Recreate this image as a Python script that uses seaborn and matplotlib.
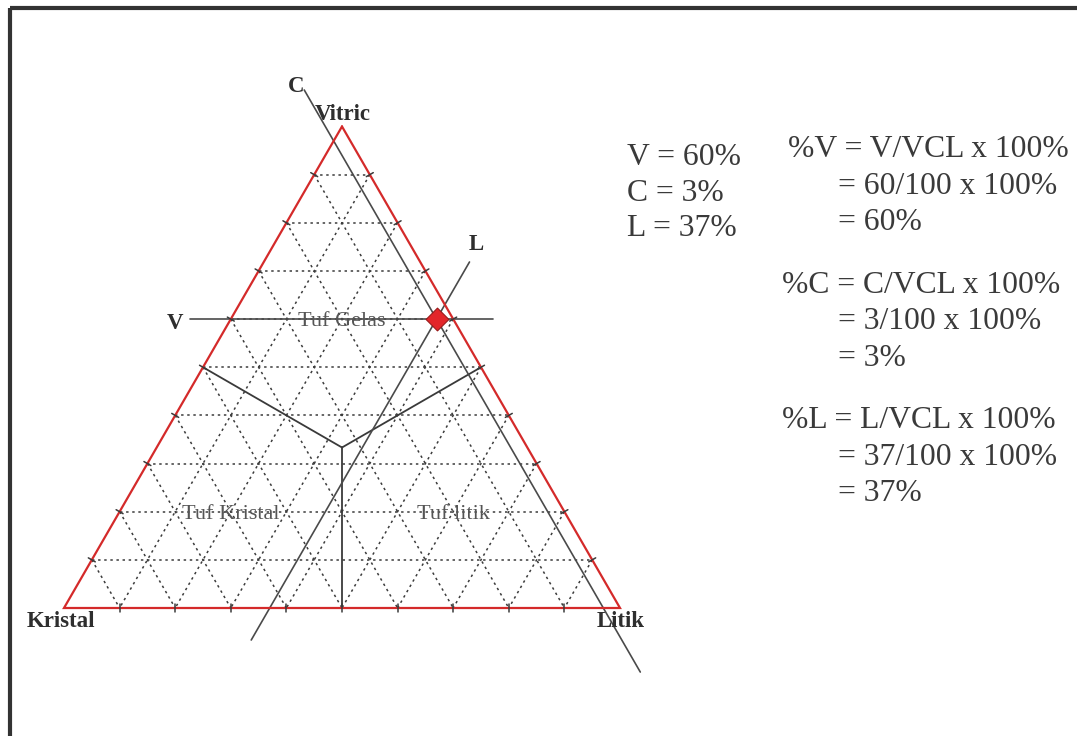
import numpy as np
import pandas as pd
import matplotlib
matplotlib.use("Agg")
import matplotlib.pyplot as plt
import seaborn as sns

# ---------------- data ----------------
apex_labels = ["Vitric", "Kristal", "Litik"]          # top, left, right
field_labels = ["Tuf Gelas", "Tuf Kristal", "Tuf litik"]
field_V = [0.6, 0.2, 0.2]
field_C = [0.2, 0.6, 0.2]
field_L = [0.2, 0.2, 0.6]
grid_levels = [0.1, 0.2, 0.3, 0.4, 0.5, 0.6, 0.7, 0.8, 0.9]
sample_V = 60
sample_C = 3
sample_L = 37
reading_labels = ["V", "C", "L"]
summary_lines = ["V = 60%", "C = 3%", "L = 37%"]
formula_lines = ["%V = V/VCL x 100%", "= 60/100 x 100%", "= 60%",
                 "%C = C/VCL x 100%", "= 3/100 x 100%", "= 3%",
                 "%L = L/VCL x 100%", "= 37/100 x 100%", "= 37%"]

# ---------------- style ----------------
sns.set_theme(style="white")
plt.rcParams["font.family"] = ["Liberation Serif", "DejaVu Serif"]

W, H = 1077, 736
fig = plt.figure(figsize=(W / 100, H / 100), dpi=100)
ax = fig.add_axes([0, 0, 1, 1])
ax.set_axis_off()

# triangle placement (pixels): left vertex x, base y, side length
X0, Y0, S = 64, 608, 556

R3 = np.sqrt(3) / 2


def tern(V, C, L):
    V, C, L = np.asarray(V, float), np.asarray(C, float), np.asarray(L, float)
    tot = V + C + L
    return L / tot + V / tot / 2, V / tot * R3


PT = 0.72  # points per pixel
red = "#d42a2a"
dark = "#3a3a3a"

# dotted grid
for f in grid_levels:
    for (a, b) in [((f, 1 - f, 0), (f, 0, 1 - f)),      # V = f
                   ((1 - f, f, 0), (0, f, 1 - f)),      # C = f
                   ((1 - f, 0, f), (0, 1 - f, f))]:     # L = f
        x, y = tern([a[0], b[0]], [a[1], b[1]], [a[2], b[2]])
        ax.plot(x, y, color="#3c3c3c", lw=1.1, ls=(0, (1.6, 2.4)), zorder=1)

# triangle outline
tx, ty = tern([1, 0, 0, 1], [0, 1, 0, 0], [0, 0, 1, 0])
ax.plot(tx, ty, color=red, lw=1.6, zorder=3, solid_joinstyle="miter")

# ticks on edges
tl = 8 / S / 2
for f in grid_levels:
    x, y = tern(0, 1 - f, f)
    ax.plot([x, x], [y - tl, y + tl], color=dark, lw=1.1, zorder=4)
    x, y = tern(f, 1 - f, 0)
    d = np.array([-R3, 0.5]) * tl
    ax.plot([x - d[0], x + d[0]], [y - d[1], y + d[1]], color=dark, lw=1.1, zorder=4)
    x, y = tern(f, 0, 1 - f)
    d = np.array([R3, 0.5]) * tl
    ax.plot([x - d[0], x + d[0]], [y - d[1], y + d[1]], color=dark, lw=1.1, zorder=4)

# field boundaries (centroid to edge midpoints)
cx, cy = tern(1 / 3, 1 / 3, 1 / 3)
for m in [(0.5, 0.5, 0), (0.5, 0, 0.5), (0, 0.5, 0.5)]:
    mx, my = tern(*m)
    ax.plot([cx, mx], [cy, my], color=dark, lw=1.3, zorder=2)

# reading lines through the sample
v, c, l = sample_V / 100, sample_C / 100, sample_L / 100
L_ext = (-0.073, 1 - v + 0.0716)
vx, vy = tern([v, v], [1 - v - L_ext[0], 1 - v - L_ext[1]], [L_ext[0], L_ext[1]])
ax.plot(vx, vy, color="#4a4a4a", lw=1.2, zorder=2)
V_ext = (1.0758, -0.133)
cxs, cys = tern([V_ext[0], V_ext[1]], [c, c], [1 - c - V_ext[0], 1 - c - V_ext[1]])
ax.plot(cxs, cys, color="#4a4a4a", lw=1.2, zorder=2)
V_ext2 = (0.7186, -0.0665)
lxs, lys = tern([V_ext2[0], V_ext2[1]], [1 - l - V_ext2[0], 1 - l - V_ext2[1]], [l, l])
ax.plot(lxs, lys, color="#4a4a4a", lw=1.2, zorder=2)

# sample point
px, py = tern(sample_V, sample_C, sample_L)
df = pd.DataFrame({"x": [float(px)], "y": [float(py)]})
sns.scatterplot(data=df, x="x", y="y", marker="D", s=135, color="#e3262a",
                edgecolor="#9a1a1a", linewidth=0.8, zorder=6, ax=ax, legend=False)
ax.set_xlim(-X0 / S, (W - X0) / S)
ax.set_ylim((Y0 - H) / S, Y0 / S)
ax.set_axis_off()

# reading labels
lab_kw = dict(textcoords="offset points", fontsize=16.5, fontweight="bold",
              color="#2e2e2e", ha="center", va="baseline")
ax.annotate(reading_labels[0], (vx[0], vy[0]), xytext=(-15 * PT, -10 * PT), **lab_kw)
ax.annotate(reading_labels[1], (cxs[0], cys[0]), xytext=(-8 * PT, -2 * PT), **lab_kw)
ax.annotate(reading_labels[2], (lxs[0], lys[0]), xytext=(7 * PT, 12 * PT), **lab_kw)

# apex labels
ax.annotate(apex_labels[0], tern(1, 0, 0), xytext=(1 * PT, 6 * PT), **lab_kw)
lab_kw_l = dict(lab_kw, ha="left")
ax.annotate(apex_labels[1], tern(0, 1, 0), xytext=(-37 * PT, -19 * PT), **lab_kw_l)
ax.annotate(apex_labels[2], tern(0, 0, 1), xytext=(-23 * PT, -19 * PT), **lab_kw_l)

# field labels
for name, fv, fc, fl in zip(field_labels, field_V, field_C, field_L):
    ax.annotate(name, tern(fv, fc, fl), xytext=(0, -7 * PT), textcoords="offset points",
                fontsize=16, color="#555555", ha="center", va="baseline", zorder=5)

# text on the right
txt_kw = dict(fontsize=22.8, color="#3a3a3a", va="baseline", ha="left")
for s, yb in zip(summary_lines, [165, 201, 236]):
    fig.text(627 / W, 1 - yb / H, s, **txt_kw)
f_x = [788, 838, 838, 782, 838, 838, 782, 838, 838]
f_y = [157, 194, 230, 293, 329, 366, 428, 465, 501]
for s, xx, yb in zip(formula_lines, f_x, f_y):
    fig.text(xx / W, 1 - yb / H, s, **txt_kw)

# frame (top and left edges visible)
ax.plot([10 / W, 1.01], [1 - 8 / H, 1 - 8 / H], transform=ax.transAxes, color="#333333",
        lw=3.0, clip_on=False, solid_capstyle="butt")
ax.plot([10 / W, 10 / W], [1 - 8 / H, -0.01], transform=ax.transAxes, color="#333333",
        lw=3.0, clip_on=False, solid_capstyle="butt")

fig.savefig("out.png", dpi=100)
